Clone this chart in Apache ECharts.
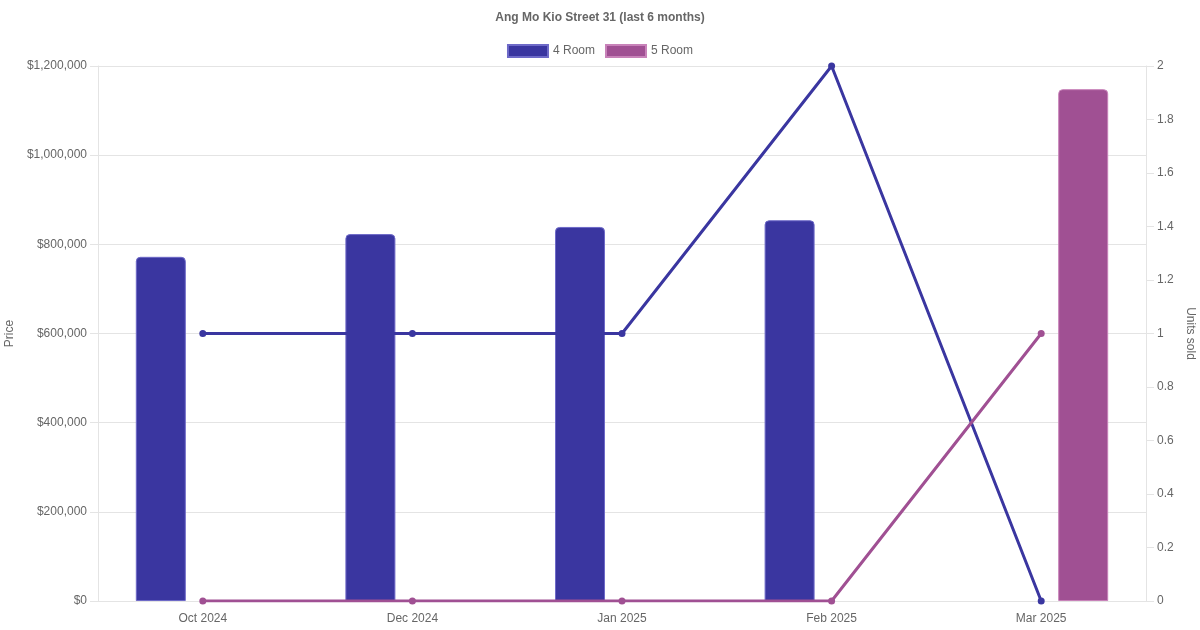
<!DOCTYPE html>
<html>
<head>
<meta charset="utf-8">
<script src="https://cdn.jsdelivr.net/npm/echarts@6/dist/echarts.min.js"></script>
<style>html,body{margin:0;padding:0;background:#fff}#c{width:1200px;height:630px}</style>
</head>
<body>
<div id="c"></div>
<script>
const categories = ['Oct 2024', 'Dec 2024', 'Jan 2025', 'Feb 2025', 'Mar 2025'];
const price4Room = [772000, 823000, 839000, 854000, null];
const price5Room = [null, null, null, null, 1148000];
const units4Room = [1, 1, 1, 2, 0];
const units5Room = [0, 0, 0, 0, 1];
const seriesNames = ['4 Room', '5 Room'];

const C4 = '#3a36a0', C5 = '#a05093';
const B4 = 'rgba(110,106,200,1)', B5 = 'rgba(200,130,185,1)';
const FONT = 'Liberation Sans, Arial, sans-serif';
const TXT = '#666';
const GRID = '#e4e4e4';

const chart = echarts.init(document.getElementById('c'));
chart.setOption({
  animation: false,
  textStyle: { fontFamily: FONT },
  title: {
    text: 'Ang Mo Kio Street 31 (last 6 months)',
    left: 'center', top: 7,
    textStyle: { fontSize: 12, fontWeight: 'bold', color: TXT, fontFamily: FONT }
  },
  legend: {
    data: seriesNames,
    top: 39, left: 'center',
    icon: 'rect', itemWidth: 40, itemHeight: 12, itemGap: 10,
    textStyle: { fontSize: 12, color: TXT, fontFamily: FONT }
  },
  grid: { left: 98, right: 54, top: 66, bottom: 29, containLabel: false, outerBoundsMode: 'none' },
  xAxis: {
    type: 'category', data: categories, boundaryGap: true,
    axisLine: { show: true, lineStyle: { color: GRID } },
    axisTick: { show: false },
    axisLabel: { color: TXT, fontSize: 12, margin: 12, fontFamily: FONT },
    splitLine: { show: false }
  },
  yAxis: [
    {
      type: 'value', min: 0, max: 1200000, interval: 200000,
      name: 'Price', nameLocation: 'middle', nameGap: 76,
      nameTextStyle: { color: TXT, fontSize: 12, fontFamily: FONT },
      axisLine: { show: true, lineStyle: { color: GRID } },
      axisTick: { show: true, length: 8, lineStyle: { color: GRID } },
      axisLabel: { color: TXT, fontSize: 12, margin: 11, fontFamily: FONT,
        formatter: v => '$' + v.toLocaleString('en-US') },
      splitLine: { show: true, lineStyle: { color: GRID } }
    },
    {
      type: 'value', min: 0, max: 2, interval: 0.2, position: 'right',
      name: 'Units sold', nameLocation: 'middle', nameGap: 34, nameRotate: -90,
      nameTextStyle: { color: TXT, fontSize: 12, fontFamily: FONT },
      axisLine: { show: true, lineStyle: { color: GRID } },
      axisTick: { show: true, length: 8, lineStyle: { color: GRID } },
      axisLabel: { color: TXT, fontSize: 12, margin: 11, fontFamily: FONT,
        formatter: v => String(Math.round(v * 10) / 10) },
      splitLine: { show: false }
    }
  ],
  series: [
    { name: seriesNames[0], type: 'bar', yAxisIndex: 0, data: price4Room,
      barWidth: 50, barGap: '68%', z: 2,
      itemStyle: { color: C4, borderColor: B4, borderWidth: 1, borderRadius: [4, 4, 0, 0] } },
    { name: seriesNames[1], type: 'bar', yAxisIndex: 0, data: price5Room,
      barWidth: 50, barGap: '68%', z: 2,
      itemStyle: { color: C5, borderColor: B5, borderWidth: 1, borderRadius: [4, 4, 0, 0] } },
    { name: seriesNames[0], type: 'line', yAxisIndex: 1, data: units4Room, z: 5,
      symbol: 'circle', symbolSize: 7, showSymbol: true,
      lineStyle: { color: C4, width: 3 }, itemStyle: { color: C4 } },
    { name: seriesNames[1], type: 'line', yAxisIndex: 1, data: units5Room, z: 5,
      symbol: 'circle', symbolSize: 7, showSymbol: true,
      lineStyle: { color: C5, width: 3 }, itemStyle: { color: C5 } }
  ]
});
</script>
</body>
</html>
